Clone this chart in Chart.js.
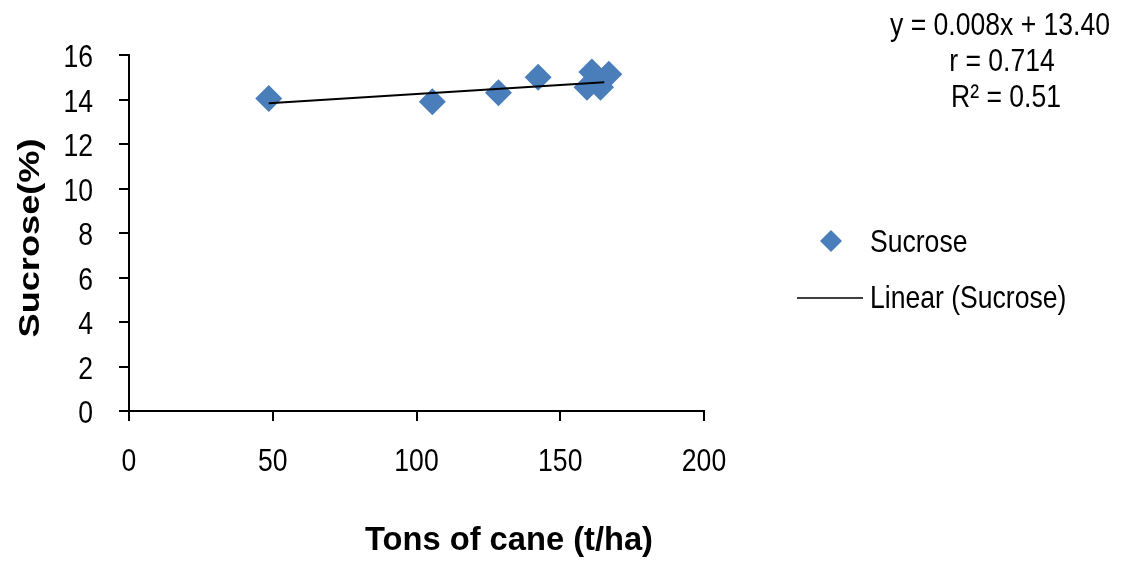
<!DOCTYPE html>
<html><head><meta charset="utf-8">
<script src="https://cdn.jsdelivr.net/npm/chart.js@4.4.0/dist/chart.umd.min.js"></script>
<style>html,body{margin:0;padding:0;background:#fff;}#wrap{width:1129px;height:563px;}</style>
</head><body><div id="wrap"><canvas id="c" width="1129" height="563"></canvas></div>
<script>
const tonsOfCane = [48.6, 105.5, 128.5, 142.3, 159.3, 161.0, 164.0, 166.9];
const sucrose = [14.05, 13.9, 14.3, 15.0, 14.55, 15.24, 14.55, 15.13];
const trendX = [48.6, 165.3];
const trendY = [13.83, 14.77];
const xTicks = [0, 50, 100, 150, 200];
const yTicks = [0, 2, 4, 6, 8, 10, 12, 14, 16];
const seriesName = 'Sucrose';
const trendName = 'Linear (Sucrose)';
const equationLines = ['y = 0.008x + 13.40', 'r = 0.714', 'R\u00b2 = 0.51'];
const xTitle = 'Tons of cane (t/ha)';
const yTitle = 'Sucrose(%)';

const BLUE = '#4a7ebb';
const FONT = '"Liberation Sans", Arial, sans-serif';
const SQUEEZE = 0.83;

function narrowText(ctx, text, x, y, align, sx) {
  ctx.save();
  ctx.translate(x, y);
  ctx.scale(sx || SQUEEZE, 1);
  ctx.textAlign = align;
  ctx.fillText(text, 0, 0);
  ctx.restore();
}

const overlay = {
  id: 'overlay',
  afterDraw(chart) {
    const ctx = chart.ctx;
    const xs = chart.scales.x, ys = chart.scales.y;
    ctx.save();
    ctx.fillStyle = '#000';
    ctx.textBaseline = 'alphabetic';
    // tick labels
    ctx.font = '32px ' + FONT;
    xs.ticks.forEach(t => narrowText(ctx, String(t.value), xs.getPixelForValue(t.value), 471, 'center'));
    ys.ticks.forEach(t => narrowText(ctx, String(t.value), 93, ys.getPixelForValue(t.value) + 12, 'right'));
    // equation
    const eqY = [35, 71, 107];
    const eqX = [1000, 1002, 1006];
    equationLines.forEach((t, i) => narrowText(ctx, t, eqX[i], eqY[i], 'center'));
    // x title
    ctx.font = 'bold 34px ' + FONT;
    const xw = ctx.measureText(xTitle).width;
    narrowText(ctx, xTitle, 509, 550, 'center', 288 / xw);
    // y title
    ctx.save();
    ctx.translate(39, 238);
    ctx.rotate(-Math.PI / 2);
    ctx.font = 'bold 29px ' + FONT;
    const w = ctx.measureText(yTitle).width;
    narrowText(ctx, yTitle, 0, 0, 'center', 199 / w);
    ctx.restore();
    // legend
    ctx.font = '32px ' + FONT;
    narrowText(ctx, seriesName, 870, 252, 'left');
    narrowText(ctx, trendName, 870, 308, 'left');
    ctx.fillStyle = BLUE;
    ctx.beginPath();
    const lx = 831, ly = 241, r = 11;
    ctx.moveTo(lx, ly - r); ctx.lineTo(lx + r, ly); ctx.lineTo(lx, ly + r); ctx.lineTo(lx - r, ly); ctx.closePath();
    ctx.fill();
    ctx.strokeStyle = '#000';
    ctx.lineWidth = 1.5;
    ctx.beginPath();
    ctx.moveTo(797, 298); ctx.lineTo(863, 298);
    ctx.stroke();
    ctx.restore();
  }
};

new Chart(document.getElementById('c'), {
  type: 'scatter',
  data: {
    datasets: [
      {
        label: trendName,
        type: 'line',
        data: trendX.map((x, i) => ({x: x, y: trendY[i]})),
        borderColor: '#000',
        borderWidth: 2,
        pointRadius: 0,
        fill: false,
        order: 0
      },
      {
        label: seriesName,
        data: tonsOfCane.map((x, i) => ({x: x, y: sucrose[i]})),
        pointStyle: 'rectRot',
        pointRadius: 13.5,
        pointHoverRadius: 13.5,
        backgroundColor: BLUE,
        borderColor: BLUE,
        borderWidth: 0,
        order: 1
      }
    ]
  },
  options: {
    responsive: false,
    animation: false,
    events: [],
    layout: { padding: { left: 0, top: 55, right: 425, bottom: 0 } },
    plugins: { legend: { display: false }, tooltip: { enabled: false } },
    scales: {
      x: {
        type: 'linear',
        min: 0, max: 200,
        afterBuildTicks(s) { s.ticks = xTicks.map(v => ({value: v})); },
        afterFit(s) { s.height = 152; },
        grid: { drawOnChartArea: false, drawTicks: true, tickLength: 10, color: '#000', lineWidth: 2 },
        border: { color: '#000', width: 2 },
        ticks: { display: false }
      },
      y: {
        type: 'linear',
        min: 0, max: 16,
        afterBuildTicks(s) { s.ticks = yTicks.map(v => ({value: v})); },
        afterFit(s) { s.width = 129; },
        grid: { drawOnChartArea: false, drawTicks: true, tickLength: 10, color: '#000', lineWidth: 2 },
        border: { color: '#000', width: 2 },
        ticks: { display: false }
      }
    }
  },
  plugins: [overlay]
});
</script></body></html>
